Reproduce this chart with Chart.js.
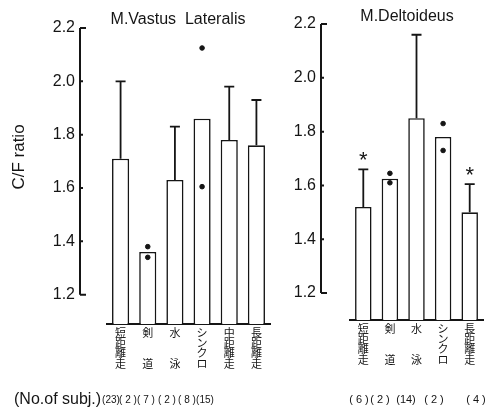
<!DOCTYPE html>
<html>
<head>
<meta charset="utf-8">
<script src="https://cdn.jsdelivr.net/npm/chart.js@4"></script>
<style>
  body { margin: 0; background: #fff; }
  #wrap { position: relative; width: 488px; height: 408px; }
  canvas { position: absolute; top: 0; }
</style>
</head>
<body>
<div id="wrap">
  <canvas id="left" width="280" height="408" style="left:0"></canvas>
  <canvas id="right" width="208" height="408" style="left:280px"></canvas>
</div>
<script>
// ================= DATA =================
const yTicks = [1.2, 1.4, 1.6, 1.8, 2.0, 2.2];

// M.Vastus Lateralis
const leftCats = [
  ["短", "距", "離", "走"],
  ["剣", "", "", "道"],
  ["水", "", "", "泳"],
  ["シ", "ン", "ク", "ロ"],
  ["中", "距", "離", "走"],
  ["長", "距", "離", "走"]
];
const leftMeans = [1.71, 1.36, 1.63, 1.86, 1.78, 1.76];
const leftErrTop = [2.00, null, 1.83, null, 1.98, 1.93];
const leftDotA = [null, 1.38, null, 2.125, null, null];
const leftDotB = [null, 1.34, null, 1.605, null, null];
const leftN = ["(23)", "( 2 )", "( 7 )", "( 2 )", "( 8 )", "(15)"];

// M.Deltoideus
const rightCats = [
  ["短", "距", "離", "走"],
  ["剣", "", "", "道"],
  ["水", "", "", "泳"],
  ["シ", "ン", "ク", "ロ"],
  ["長", "距", "離", "走"]
];
const rightMeans = [1.52, 1.625, 1.85, 1.78, 1.50];
const rightErrTop = [1.66, null, 2.16, null, 1.605];
const rightDotA = [null, 1.645, null, 1.83, null];
const rightDotB = [null, 1.61, null, 1.73, null];
const rightStars = [true, false, false, false, true];
const rightN = ["( 6 )", "( 2 )", "(14)", "( 2 )", "( 4 )"];

const sans = '"Liberation Sans", Arial, sans-serif';
const ink = "#151515";

// ================= PANEL DECORATION =================
// error bars, stars, broken y axis, titles, counts
function panelPlugin(p) {
  return {
    id: "panel",
    afterDatasetsDraw(chart) {
      const ctx = chart.ctx;
      const xs = chart.scales.x, ys = chart.scales.y;
      ctx.save();
      ctx.strokeStyle = ink;
      ctx.fillStyle = ink;

      // error bars (upper only)
      ctx.lineWidth = 1.8;
      p.means.forEach((m, i) => {
        if (p.errTop[i] == null) return;
        const cx = xs.getPixelForValue(i);
        const top = ys.getPixelForValue(p.errTop[i]);
        ctx.beginPath();
        ctx.moveTo(cx, ys.getPixelForValue(m));
        ctx.lineTo(cx, top);
        ctx.moveTo(cx - 5, top);
        ctx.lineTo(cx + 5, top);
        ctx.stroke();
        if (p.stars && p.stars[i]) {
          ctx.font = "22px " + sans;
          ctx.textAlign = "center";
          ctx.textBaseline = "alphabetic";
          ctx.fillText("*", cx, top - 2);
        }
      });

      // y axis, only from 1.2 to 2.2
      const ax = chart.chartArea.left - p.axisGap;
      const yLo = ys.getPixelForValue(yTicks[0]);
      const yHi = ys.getPixelForValue(yTicks[yTicks.length - 1]);
      ctx.lineWidth = 2;
      ctx.beginPath();
      ctx.moveTo(ax, yLo);
      ctx.lineTo(ax, yHi);
      yTicks.forEach((t, i) => {
        const ty = ys.getPixelForValue(t);
        const len = (i === 0 || i === yTicks.length - 1) ? 6 : 3;
        ctx.moveTo(ax, ty);
        ctx.lineTo(ax + len, ty);
      });
      ctx.stroke();
      ctx.font = "16px " + sans;
      ctx.textAlign = "right";
      ctx.textBaseline = "middle";
      yTicks.forEach(t => ctx.fillText(t.toFixed(1), ax - 5, ys.getPixelForValue(t)));

      // title
      ctx.font = "16px " + sans;
      ctx.textAlign = "center";
      ctx.fillText(p.title, p.titleX, p.titleY);

      // y label
      if (p.yLabel) {
        ctx.save();
        ctx.translate(19, 157);
        ctx.rotate(-Math.PI / 2);
        ctx.font = "17px " + sans;
        ctx.fillText(p.yLabel, 0, 0);
        ctx.restore();
      }

      // no. of subjects
      if (p.nLabel) {
        ctx.font = "16px " + sans;
        ctx.textAlign = "left";
        ctx.fillText(p.nLabel, 14, 400);
      }
      ctx.font = p.nFont + " " + sans;
      ctx.textAlign = "center";
      p.n.forEach((s, i) => ctx.fillText(s, p.nX[i], 400));
      ctx.restore();
    }
  };
}

function makeChart(id, cats, means, dotA, dotB, pad, axisH, barPct, plug) {
  return new Chart(document.getElementById(id), {
    type: "bar",
    data: {
      labels: cats,
      datasets: [
        {
          data: means,
          backgroundColor: "#fff",
          borderColor: ink,
          borderWidth: 1.6,
          categoryPercentage: 1,
          barPercentage: barPct,
          order: 2
        },
        {
          type: "line", data: dotA, showLine: false, order: 1,
          pointRadius: 2.3, pointBackgroundColor: ink, pointBorderColor: ink
        },
        {
          type: "line", data: dotB, showLine: false, order: 1,
          pointRadius: 2.3, pointBackgroundColor: ink, pointBorderColor: ink
        }
      ]
    },
    options: {
      responsive: false,
      animation: false,
      layout: { padding: pad },
      plugins: { legend: { display: false }, tooltip: { enabled: false } },
      scales: {
        x: {
          grid: { display: false, drawTicks: false },
          border: { display: true, color: ink, width: 2 },
          ticks: {
            color: ink,
            padding: 4,
            autoSkip: false,
            maxRotation: 0,
            font: { family: '"Noto Sans CJK JP"', size: 11, lineHeight: 0.92 }
          },
          afterFit: s => { s.height = axisH; }
        },
        y: { display: false, min: pad.yMin, max: 2.2 }
      }
    },
    plugins: [panelPlugin(plug)]
  });
}

makeChart("left", leftCats, leftMeans, leftDotA, leftDotB,
  { left: 107, right: 10, top: 28, bottom: 0, yMin: 1.09 }, 84, 0.63, {
    means: leftMeans, errTop: leftErrTop, axisGap: 27,
    title: "M.Vastus  Lateralis", titleX: 178, titleY: 20,
    yLabel: "C/F ratio", nLabel: "(No.of subj.)",
    n: leftN, nX: [111, 128, 146, 167, 187, 205], nFont: "10px"
  });

makeChart("right", rightCats, rightMeans, rightDotA, rightDotB,
  { left: 70, right: 2, top: 24, bottom: 0, yMin: 1.1 }, 88, 0.62, {
    means: rightMeans, errTop: rightErrTop, stars: rightStars, axisGap: 29,
    title: "M.Deltoideus", titleX: 127, titleY: 17,
    n: rightN, nX: [79, 100, 126, 154, 196], nFont: "11px"
  });
</script>
</body>
</html>
